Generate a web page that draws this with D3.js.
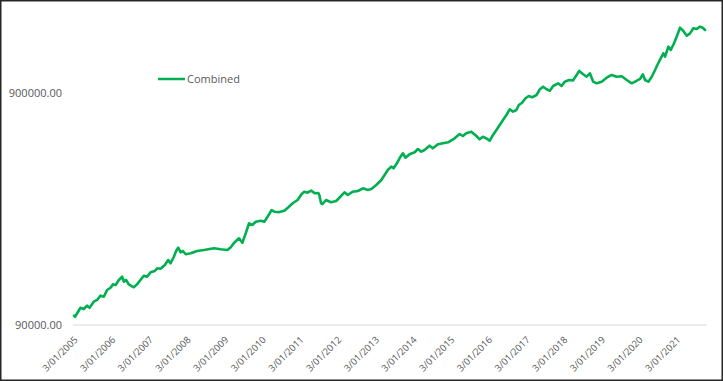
<!DOCTYPE html>
<html>
<head>
<meta charset="utf-8">
<script src="https://cdn.jsdelivr.net/npm/d3@7"></script>
<style>
  html, body { margin: 0; padding: 0; background: #fff; }
  svg { display: block; }
  text { font-family: "Open Sans", "DejaVu Sans", sans-serif; fill: #595959; }
</style>
</head>
<body>
<svg id="chart" width="723" height="381"></svg>
<script>
const seriesName = "Combined";
const dates = [
"2005-01-03","2005-01-13","2005-03-07","2005-04-08","2005-05-10","2005-06-03","2005-07-14","2005-08-15","2005-09-17","2005-10-19",
"2005-11-20","2005-12-23","2006-01-16","2006-02-11","2006-03-14","2006-04-15","2006-05-01","2006-05-23","2006-06-18","2006-08-05",
"2006-09-06","2006-10-09","2006-11-10","2006-12-12","2007-01-15","2007-02-25","2007-03-20","2007-04-22","2007-06-03","2007-07-05",
"2007-07-28","2007-08-29","2007-09-20","2007-10-10","2007-11-03","2007-11-25","2007-12-22","2008-02-08","2008-04-12","2008-06-16",
"2008-09-21","2008-11-25","2009-01-30","2009-03-03","2009-04-04","2009-05-22","2009-06-23","2009-07-26","2009-08-27","2009-09-28",
"2009-10-31","2009-12-19","2010-01-22","2010-02-23","2010-04-03","2010-04-29","2010-06-16","2010-08-04","2010-09-12","2010-10-24",
"2010-12-11","2011-01-19","2011-02-14","2011-03-18","2011-04-20","2011-05-29","2011-06-30","2011-07-09","2011-07-26","2011-08-10",
"2011-09-12","2011-10-31","2011-12-19","2012-01-20","2012-03-09","2012-04-10","2012-05-29","2012-07-17","2012-09-04","2012-10-22",
"2012-11-24","2013-01-11","2013-03-01","2013-04-02","2013-05-03","2013-06-06","2013-06-28","2013-07-30","2013-08-25","2013-09-26",
"2013-10-22","2013-11-30","2014-01-18","2014-02-19","2014-03-23","2014-04-24","2014-06-12","2014-07-14","2014-09-01","2014-10-20",
"2014-12-08","2015-02-10","2015-03-30","2015-05-01","2015-06-03","2015-07-22","2015-09-09","2015-10-10","2015-11-11","2015-12-14",
"2016-01-16","2016-02-17","2016-03-21","2016-04-22","2016-05-24","2016-06-26","2016-07-28","2016-08-29","2016-10-01","2016-10-24",
"2016-11-25","2016-12-28","2017-01-29","2017-03-02","2017-04-14","2017-05-16","2017-06-17","2017-07-20","2017-08-21","2017-09-22",
"2017-11-09","2017-12-12","2018-01-14","2018-02-22","2018-04-04","2018-06-01","2018-07-10","2018-08-12","2018-09-13","2018-10-15",
"2018-11-17","2019-01-05","2019-02-23","2019-04-12","2019-05-31","2019-07-19","2019-09-05","2019-10-24","2019-11-25","2020-01-13",
"2020-02-08","2020-03-01","2020-04-02","2020-05-05","2020-06-06","2020-06-28","2020-07-31","2020-08-25","2020-09-11","2020-10-13",
"2020-11-05","2020-12-07","2021-01-08","2021-02-03","2021-03-07","2021-04-09","2021-05-11","2021-06-12","2021-07-15","2021-08-16",
"2021-09-11","2021-10-03"
];
const values = [
98700,97700,106800,105500,109000,106800,113400,115400,120400,119200,
127400,130300,134700,133800,140700,145300,138300,140700,134700,130900,
134700,140700,146800,145300,151800,153800,158000,157200,163300,171500,
166100,177200,187600,193900,185200,187600,181600,183300,187600,189400,
192700,190800,189400,194600,203700,212800,203700,223700,247000,242800,
250900,253400,250900,263700,281800,277100,276000,279900,289500,301200,
311200,330300,337900,334600,341400,332600,333500,327100,301200,299000,
311200,304300,308100,318300,335900,327100,337900,340300,349500,343600,
347000,361100,379500,398900,419200,433200,426300,447900,470600,494700,
473500,489900,499700,516200,502700,511200,533400,519800,540900,546300,
551700,574000,599100,587300,603400,613100,587300,568400,583200,574000,
560600,593300,623300,655100,688200,723500,765500,747500,760200,798800,
817200,853900,873600,862500,882400,933700,958100,933700,920700,964900,
990900,964900,1007000,1024000,1020000,1120000,1083800,1058000,1094600,1007000,
990900,1007000,1047600,1076300,1058000,1062000,1024000,990900,1007000,1034500,
1083800,1024000,1007000,1058000,1131000,1188000,1270000,1335000,1290600,1426000,
1379000,1474000,1600000,1721000,1665000,1589000,1627000,1711000,1699000,1739000,
1721000,1682000
];
const yTicks = [90000, 900000];
const xTickLabels = ["3/01/2005","3/01/2006","3/01/2007","3/01/2008","3/01/2009","3/01/2010","3/01/2011","3/01/2012","3/01/2013","3/01/2014","3/01/2015","3/01/2016","3/01/2017","3/01/2018","3/01/2019","3/01/2020","3/01/2021"];

const parseISO = d3.timeParse("%Y-%m-%d");
const parseLabel = d3.timeParse("%d/%m/%Y");
const data = dates.map((d, i) => ({ date: parseISO(d), value: values[i] }));

const svg = d3.select("#chart");
const W = 723, H = 381;

svg.append("rect").attr("x", 0).attr("y", 0).attr("width", W).attr("height", H).attr("fill", "#fff");
svg.append("rect").attr("x", 0.75).attr("y", 0.75).attr("width", W - 1.5).attr("height", H - 1.5)
  .attr("fill", "none").attr("stroke", "#262626").attr("stroke-width", 1.5);

const x = d3.scaleTime().domain(d3.extent(data, d => d.date)).range([74, 705]);
const y = d3.scaleLog().domain([90000, 900000]).range([325, 93]);

// baseline
svg.append("line")
  .attr("x1", x.range()[0] - 1).attr("x2", x.range()[1] + 2)
  .attr("y1", y(yTicks[0])).attr("y2", y(yTicks[0]))
  .attr("stroke", "#d9d9d9").attr("stroke-width", 1);

// y labels
svg.append("g").selectAll("text").data(yTicks).join("text")
  .attr("x", 62).attr("y", d => y(d)).attr("dy", "0.35em")
  .attr("text-anchor", "end").style("font-size", "11px")
  .text(d => d3.format(".2f")(d));

// x labels
svg.append("g").selectAll("text").data(xTickLabels).join("text")
  .attr("transform", d => `translate(${x(parseLabel(d)) + 2},${y(yTicks[0]) + 13}) rotate(-45)`)
  .attr("text-anchor", "end").attr("dy", "0.35em")
  .style("font-size", "9.5px")
  .text(d => d);

// line
const line = d3.line().x(d => x(d.date)).y(d => y(d.value));
svg.append("path").datum(data)
  .attr("fill", "none").attr("stroke", "#00B050").attr("stroke-width", 2.6)
  .attr("stroke-linejoin", "round").attr("stroke-linecap", "round")
  .attr("d", line);

// legend
svg.append("line").attr("x1", 158).attr("x2", 185).attr("y1", 79).attr("y2", 79)
  .attr("stroke", "#00B050").attr("stroke-width", 2.5);
svg.append("text").attr("x", 187).attr("y", 79).attr("dy", "0.35em")
  .style("font-size", "11px").text(seriesName);
</script>
</body>
</html>
